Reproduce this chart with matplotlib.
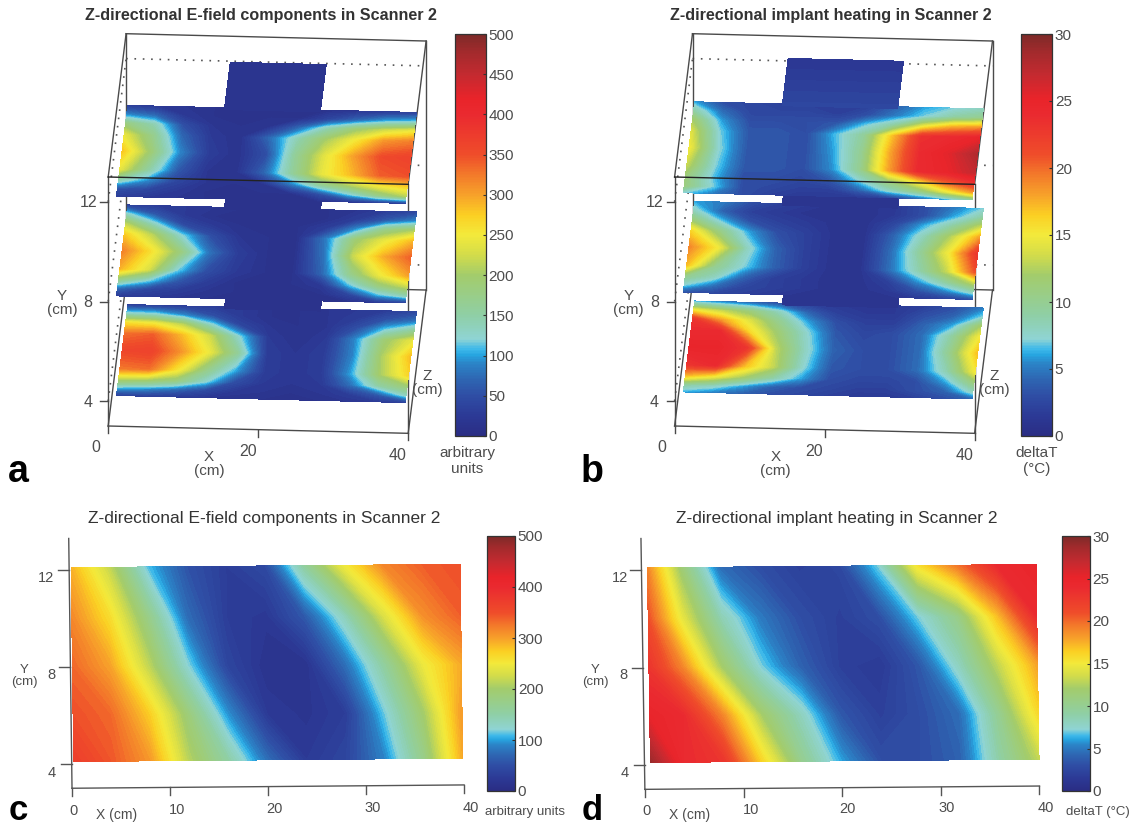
import numpy as np
import matplotlib
matplotlib.use("Agg")
import matplotlib.pyplot as plt
from matplotlib.cm import ScalarMappable
from matplotlib.colors import LinearSegmentedColormap, Normalize
from matplotlib.transforms import Affine2D

plt.rcParams['font.family'] = ['Liberation Sans', 'DejaVu Sans']

W, H = 1131, 825

# top panels: slices at Y = 4, 8, 12, columns along X, rows along Z (front to back)
slab_x = [1, 4.85, 8.7, 12.55, 16.4, 20.25, 24.1, 27.95, 31.8, 35.65, 39.5]
slab_z = [0, .08, .18, .3, .5, .68, .8, .9, 1]

efield_y4 = [
    [30, 30, 25, 20, 15, 15, 15, 15, 20, 25, 30],
    [100, 90, 70, 45, 25, 20, 15, 20, 30, 60, 130],
    [210, 200, 180, 125, 50, 25, 20, 25, 75, 150, 190],
    [325, 330, 255, 170, 100, 30, 20, 30, 100, 200, 270],
    [360, 365, 310, 245, 160, 30, 20, 30, 90, 205, 285],
    [330, 340, 285, 220, 120, 25, 15, 25, 90, 190, 240],
    [260, 250, 210, 125, 40, 20, 15, 20, 50, 110, 150],
    [130, 125, 90, 50, 25, 15, 15, 20, 30, 55, 75],
    [30, 30, 30, 30, 25, 15, 15, 20, 25, 30, 40],
]
efield_y8 = [
    [25, 25, 20, 15, 15, 15, 15, 15, 15, 25, 30],
    [70, 40, 30, 20, 15, 15, 15, 15, 40, 105, 140],
    [170, 120, 60, 30, 15, 15, 15, 25, 110, 180, 220],
    [290, 230, 115, 50, 25, 15, 15, 70, 170, 245, 300],
    [320, 260, 185, 80, 30, 15, 15, 80, 220, 290, 340],
    [275, 210, 120, 50, 20, 15, 15, 85, 190, 240, 285],
    [210, 130, 45, 25, 15, 15, 15, 30, 90, 170, 200],
    [130, 60, 25, 15, 15, 15, 15, 15, 30, 60, 90],
    [30, 30, 25, 20, 15, 15, 15, 15, 20, 30, 40],
]
efield_y12 = [
    [30, 25, 20, 15, 15, 15, 15, 15, 20, 25, 30],
    [50, 40, 25, 15, 15, 15, 15, 50, 110, 170, 210],
    [140, 90, 40, 20, 15, 20, 85, 160, 205, 245, 270],
    [240, 150, 60, 20, 15, 70, 160, 240, 285, 340, 350],
    [280, 190, 90, 30, 15, 50, 160, 235, 300, 355, 365],
    [240, 170, 70, 25, 15, 70, 140, 200, 250, 305, 320],
    [180, 140, 50, 20, 15, 20, 70, 140, 190, 220, 240],
    [90, 70, 25, 15, 15, 15, 15, 40, 70, 100, 110],
    [30, 25, 20, 15, 15, 15, 15, 15, 20, 25, 30],
]
heat_y4 = [
    [6, 5, 4, 3, 2.5, 2, 1.5, 1.5, 2, 3, 4],
    [9, 8, 6, 4, 3, 2.5, 2, 2, 3, 4, 8],
    [17, 15, 12, 9, 6, 3, 2.5, 2.5, 3, 6, 11],
    [23, 24, 17, 13, 7.5, 3.5, 3, 3, 4.5, 8.5, 15],
    [25, 25, 23, 13, 8, 4, 3, 3, 4.5, 10, 17],
    [24, 24, 16, 11.5, 7.5, 3.5, 2.5, 3, 4.5, 9, 15],
    [23, 18, 14, 10, 6, 3, 2, 2, 4, 6, 12],
    [15, 13, 11, 8, 4, 2, 1.5, 1.5, 3, 4, 7],
    [6, 5, 4, 3, 2, 1.5, 1.5, 1.5, 2, 3, 5],
]
heat_y8 = [
    [3, 2.5, 2, 1.5, 1, 1, 1, 1, 1.5, 2, 3],
    [7, 4.5, 2.5, 2, 1.5, 1, 1, 1.5, 3, 5, 8],
    [10, 8, 4, 2, 1.5, 1, 1, 2, 5.5, 9, 13],
    [17, 10, 7, 4, 2, 1, 1, 4.5, 8.5, 13, 21],
    [19, 15, 8, 4, 2, 1, 1, 4.5, 9.5, 15, 23],
    [16, 10.5, 6, 3, 2, 1, 1, 4, 8, 12.5, 18],
    [11, 6.5, 3, 2, 1.5, 1, 1, 2.5, 6, 9, 13],
    [8, 4, 2, 1.5, 1, 1, 1, 1.5, 3, 6, 9],
    [6, 5, 3, 2, 1.5, 1, 1, 1.5, 3, 5, 7],
]
heat_y12 = [
    [7, 5, 3, 2, 1.5, 1.5, 1.5, 2, 4, 6, 9],
    [11, 7, 3, 2.5, 2, 2, 4, 7.5, 10, 14, 18],
    [11, 6.5, 3, 3, 2.5, 3.5, 7, 11, 15, 20, 23],
    [13, 7, 3.5, 3.5, 3, 5.5, 10, 18, 24, 25, 27],
    [15, 7.5, 3.5, 3.5, 3, 6, 10, 18, 24, 25.5, 28],
    [14, 7, 3.5, 3.5, 3, 6.5, 9.5, 17, 23.5, 24, 25],
    [12, 6, 3, 3, 3, 3.5, 6.5, 9, 14, 17, 18],
    [9, 4.5, 2.5, 2.5, 2.5, 2, 3, 5, 7, 9, 10],
    [6, 3, 2.5, 2, 2, 2, 2, 4, 6, 7, 8],
]

# bottom panels: map over X and Y
map_y = [4.1, 6, 8, 10, 12.1]
map_x_c = [0.2, 4, 8, 12, 16, 20, 24, 28, 32, 36, 39.9]
map_x_d = [0.6, 4, 8, 12, 16, 20, 24, 28, 32, 36, 40]
efield_map = [
    [370, 345, 305, 210, 150, 75, 25, 40, 90, 175, 295],
    [350, 335, 275, 185, 95, 25, 18, 30, 115, 200, 305],
    [335, 300, 215, 120, 40, 15, 15, 75, 155, 245, 295],
    [315, 265, 175, 75, 30, 22, 60, 135, 230, 310, 340],
    [290, 220, 110, 55, 30, 45, 155, 245, 315, 340, 350],
]
heat_map = [
    [29, 24, 23, 16, 10, 6, 3, 3, 4, 9, 13],
    [25, 24, 19, 12, 8, 3.5, 2, 3, 4.5, 10, 16],
    [23, 19, 12, 7, 4, 2, 1.5, 3.5, 8, 13, 18],
    [21, 14.5, 8.5, 5, 3, 2, 3, 7, 10.5, 17, 24],
    [19, 11.5, 4.5, 3, 2, 2.5, 7, 15.5, 19.5, 24, 25],
]

cmap_pos = [0, .05, .10, .14, .18, .20, .215, .24, .30, .40, .45, .50, .55, .60, .65, .70, .80, .84, .90, .96, 1]
cmap_col = ['#2a2d84', '#2c3a96', '#2f4ea5', '#2e66b2', '#2b85c8', '#27a5e0', '#3db8ea', '#8fd4d4',
            '#8fcfa5', '#a3cc6b', '#d3dc4a', '#f3ea3b', '#fbcf23', '#f7a12a', '#f37a2a', '#ef4d2a',
            '#ea2a30', '#e9242a', '#c42a30', '#a02a2c', '#7d2a28']
jetish = LinearSegmentedColormap.from_list('jetish', list(zip(cmap_pos, cmap_col)))

TXT = '#4d4d4d'

fig = plt.figure(figsize=(W / 100, H / 100), dpi=100)
ax = fig.add_axes([0, 0, 1, 1])
ax.set_xlim(0, W)
ax.set_ylim(H, 0)
ax.axis('off')
ax.autoscale(False)


def colorbar(x0, x1, y0, y1, vmax, ticks):
    cax = fig.add_axes([x0 / W, 1 - y1 / H, (x1 - x0) / W, (y1 - y0) / H])
    cb = fig.colorbar(ScalarMappable(Normalize(0, vmax), jetish), cax=cax, ticks=ticks)
    cb.ax.tick_params(direction='in', length=2.5, width=0.8, labelsize=11, labelcolor=TXT, pad=2, color='#333333')
    cb.outline.set_linewidth(0.9)
    cb.outline.set_edgecolor('#333333')


def fill(xs, zs, vals, tr, vmax):
    ax.contourf(xs, zs, vals, levels=np.linspace(0, vmax, 101), cmap=jetish, transform=tr + ax.transData, zorder=3)


def top_panel(dx, slabs, vmax, z0, notch, tongue_vals, title, title_x, letter, unit, unit_x):
    # box of the 3D plot: X cm, Y cm, depth 0..1
    ox, oy = 108.2 + dx, 426
    xv = (7.5, 0.183)
    yv = (0, -24.9)
    zv = (17.9, -143.3)

    def p(x, y, z):
        return (ox + x * xv[0] + (y - 3) * yv[0] + z * zv[0],
                oy + x * xv[1] + (y - 3) * yv[1] + z * zv[1])

    def seg(a, b, **kw):
        ax.plot(*zip(p(*a), p(*b)), **kw)

    # grid lines on the back and left walls
    for y in (4, 8, 12):
        seg((0, y, 0), (0, y, 1), color='#555555', lw=1.2, ls=(0, (1, 4)), zorder=1)
        seg((0, y, 1), (40, y, 1), color='#555555', lw=1.2, ls=(0, (1, 4)), zorder=1)

    box = dict(color='#4a4a4a', lw=1.0, zorder=2)
    for x in (0, 40):
        seg((x, 3, 0), (x, 13, 0), **box)
        seg((x, 3, 1), (x, 13, 1), **box)
        seg((x, 3, 0), (x, 3, 1), **box)
        seg((x, 13, 0), (x, 13, 1), **box)
    for y, z in ((3, 0), (3, 1), (13, 1)):
        seg((0, y, z), (40, y, z), **box)

    for y, vals in slabs:
        tr = Affine2D.from_values(xv[0], xv[1], zv[0], zv[1], *p(0, y, 0))
        fz = [z0 + 0.635 * z for z in slab_z]
        fill(slab_x, fz, vals, tr, vmax)
        if y < 12:
            # centre strip joining this slice to the next one
            fill(notch, [z0 + 0.635 * 0.98, z0 + 0.635 * 1.2], [[tongue_vals[0]] * 2, [tongue_vals[0]] * 2], tr, vmax)
        else:
            fill(notch, [z0 + 0.635 * 0.98, z0 + 0.635 * 1.5], [[tongue_vals[1]] * 2, [tongue_vals[0]] * 2], tr, vmax)

    seg((0, 13, 0), (40, 13, 0), color='#222222', lw=1.0, zorder=5)

    # ticks and labels
    for y in (4, 8, 12):
        px, py = p(0, y, 0)
        ax.plot([px - 8, px], [py, py], color='#4a4a4a', lw=1.0, zorder=2)
        ax.text(px - 20, py + 1, str(y), ha='center', va='center', fontsize=11.5, color=TXT)
    for x, lx, ly in ((0, 95.4, 448), (20, 248, 452), (40, 398, 456)):
        px, py = p(x, 3, 0)
        ax.plot([px, px], [py, py + 7], color='#4a4a4a', lw=1.0, zorder=2)
        ax.text(lx + dx, ly, str(x), ha='center', va='center', fontsize=11.5, color=TXT)
    ax.text(62 + dx, 303, 'Y\n(cm)', ha='center', va='center', fontsize=11, color=TXT, linespacing=1.0)
    ax.text(209 + dx, 464, 'X\n(cm)', ha='center', va='center', fontsize=11, color=TXT, linespacing=1.0)
    ax.text(427.5 + dx, 383, 'Z\n(cm)', ha='center', va='center', fontsize=11, color=TXT, linespacing=1.0)
    ax.text(unit_x, 461, unit, ha='center', va='center', fontsize=11, color=TXT, linespacing=1.1)
    ax.text(title_x, 15.5, title, ha='center', va='center', fontsize=11.6, color='#333333', fontweight='bold')
    ax.text(letter[1], 482, letter[0], ha='center', va='baseline', fontsize=27, fontweight='bold', color='black')


def bottom_panel(org, xv, yv, xs, vals, vmax, labels, title, title_xy, letter, unit, unit_x):
    def p(x, y):
        return (org[0] + x * xv[0] + (y - 4) * yv[0], org[1] + x * xv[1] + (y - 4) * yv[1])

    tr = Affine2D.from_values(xv[0], xv[1], yv[0], yv[1], org[0] - 4 * yv[0], org[1] - 4 * yv[1])
    fill(xs, map_y, vals, tr, vmax)

    axis = dict(color='#555555', lw=1.0, zorder=2)
    ax.plot(*zip(p(0, 3), p(0, 13.3)), **axis)
    ax.plot(*zip(p(0, 3), p(40, 3)), **axis)
    for x, (lx, ly) in zip((0, 10, 20, 30, 40), labels['x']):
        px, py = p(x, 3)
        ax.plot([px, px], [py, py + 8], **axis)
        ax.text(lx, ly, str(x), ha='center', va='center', fontsize=10.5, color=TXT)
    for y, (lx, ly) in zip((12, 8, 4), labels['y']):
        px, py = p(0, y)
        ax.plot([px - 11, px], [py, py], **axis)
        ax.text(lx, ly, str(y), ha='center', va='center', fontsize=10.5, color=TXT)
    ax.text(*labels['xl'], 'X (cm)', ha='center', va='center', fontsize=10, color=TXT)
    ax.text(*labels['yl'], 'Y\n(cm)', ha='center', va='center', fontsize=9.5, color=TXT, linespacing=1.0)
    ax.text(unit_x, 812, unit, ha='center', va='center', fontsize=9.5, color=TXT)
    ax.text(*title_xy, title, ha='center', va='center', fontsize=12.5, color='#333333')
    ax.text(letter[1], 820, letter[0], ha='center', va='baseline', fontsize=25, fontweight='bold', color='black')


top_panel(0, [(4, efield_y4), (8, efield_y8), (12, efield_y12)], 500, 0.04, [13.9, 26.7], (15, 20),
          'Z-directional E-field components in Scanner 2', 261, ('a', 18), 'arbitrary\nunits', 467)
top_panel(566.4, [(4, heat_y4), (8, heat_y8), (12, heat_y12)], 30, 0.065, [12.7, 28.1], (1.2, 2.5),
          'Z-directional implant heating in Scanner 2', 831, ('b', 592), 'deltaT\n(°C)', 1037)

bottom_panel((71.7, 764), (9.8, -0.083), (-0.32, -24.25), map_x_c, efield_map, 500,
             dict(x=[(74, 811), (177, 810), (274, 809), (373, 808), (471, 808)],
                  y=[(46, 578), (51, 675), (52, 773)], xl=(117, 815), yl=(24, 676)),
             'Z-directional E-field components in Scanner 2', (264, 518), ('c', 18), 'arbitrary units', 525)
bottom_panel((644.5, 765), (9.865, -0.083), (-0.38, -24.35), map_x_d, heat_map, 30,
             dict(x=[(646.6, 811), (751, 810), (847, 809), (946.6, 808), (1045.8, 808)],
                  y=[(619.6, 578), (623, 675), (625, 773)], xl=(690, 815), yl=(595, 676)),
             'Z-directional implant heating in Scanner 2', (837, 518), ('d', 592), 'deltaT (°C)', 1098)

colorbar(454.6, 485.7, 34, 436, 500, list(range(0, 501, 50)))
colorbar(1020.7, 1052, 34, 436, 30, list(range(0, 31, 5)))
colorbar(487, 515, 536, 791, 500, list(range(0, 501, 100)))
colorbar(1061.7, 1089.8, 536, 791, 30, list(range(0, 31, 5)))

fig.savefig("out.png", dpi=100)
